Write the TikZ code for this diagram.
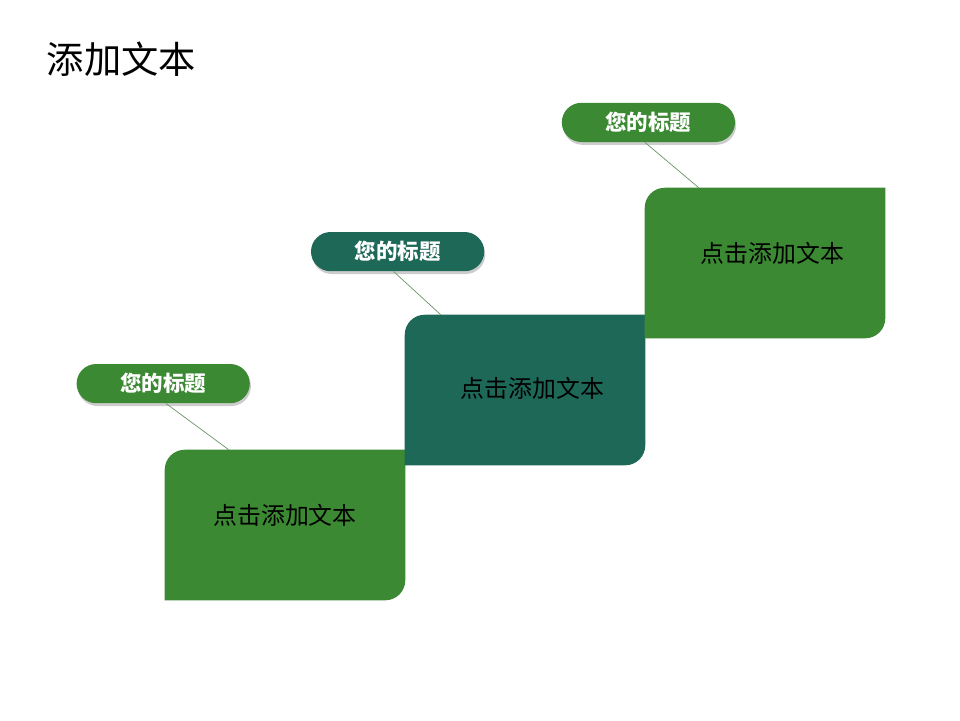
\documentclass[tikz,border=0pt]{standalone}
\usepackage{fontspec}
\newfontfamily\cjk{Noto Sans CJK SC}
\usetikzlibrary{positioning, calc, shadows, backgrounds}
\definecolor{leaf}{HTML}{3B8932}
\definecolor{pine}{HTML}{1E6858}
\definecolor{stem}{HTML}{6A9466}

\begin{document}
\begin{tikzpicture}[
    every node/.style={font=\cjk},
    box/.style={rectangle, minimum width=6cm, minimum height=3.75cm, inner sep=0pt},
    boxtext/.style={font=\cjk\fontsize{17pt}{20pt}\selectfont, text=black},
    pill/.style={rectangle, rounded corners=0.49cm, minimum width=4.33cm, minimum height=0.98cm,
                 text=white, font=\cjk\bfseries\fontsize{15.3pt}{18pt}\selectfont,
                 drop shadow={opacity=0.4, shadow xshift=0.8pt, shadow yshift=-2pt}},
    lead/.style={stem, line width=0.5pt}
]
    \useasboundingbox (0,0) rectangle (24,-18);

    % title
    \node[anchor=west, font=\cjk\fontsize{26.5pt}{30pt}\selectfont] (title) at (1.05,-1.47) {添加文本};

    % steps
    \node[box] (b1) at (7.125,-13.125) {};
    \node[box] (b2) at (13.125,-9.75)  {};
    \node[box] (b3) at (19.125,-6.575) {};

    \begin{scope}[on background layer]
    \foreach \b/\c in {b1/leaf, b2/pine, b3/leaf}
        \fill[\c] (\b.south west) -- ([yshift=-0.5cm]\b.north west)
            arc[start angle=180, end angle=90, radius=0.5cm] -- (\b.north east)
            -- ([yshift=0.5cm]\b.south east)
            arc[start angle=0, end angle=-90, radius=0.5cm] -- cycle;
    \end{scope}

    \node[boxtext] (t1) at ([yshift=0.25cm]b1.center) {点击添加文本};
    \node[boxtext] (t2) at ([xshift=0.18cm, yshift=0.05cm]b2.center) {点击添加文本};
    \node[boxtext] (t3) at ([xshift=0.18cm, yshift=0.25cm]b3.center) {点击添加文本};

    % titles
    \node[pill, fill=leaf] (p1) at (4.08,-9.59)  {您的标题};
    \node[pill, fill=pine] (p2) at (9.94,-6.29)  {您的标题};
    \node[pill, fill=leaf] (p3) at (16.21,-3.06) {您的标题};

    \coordinate (c1) at ([xshift=1.6cm]b1.north west);
    \coordinate (c2) at ([xshift=0.9cm]b2.north west);
    \coordinate (c3) at ([xshift=1.35cm]b3.north west);

    \draw[lead] ([xshift=0.07cm]p1.south) -- (c1);
    \draw[lead] ([xshift=-0.1cm]p2.south) -- (c2);
    \draw[lead] ([xshift=-0.09cm]p3.south) -- (c3);
\end{tikzpicture}
\end{document}
